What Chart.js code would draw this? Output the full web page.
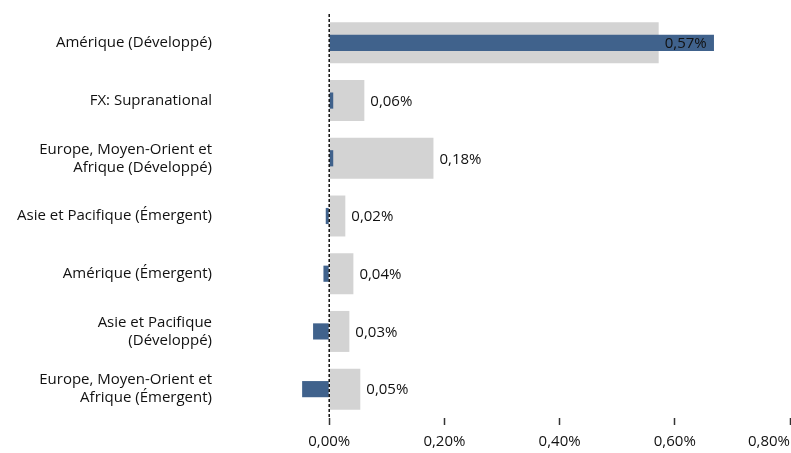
<!DOCTYPE html>
<html>
<head>
<meta charset="utf-8">
<script src="https://cdn.jsdelivr.net/npm/chart.js@4.4.0/dist/chart.umd.min.js"></script>
<style>
  html, body { margin: 0; padding: 0; background: #fff; }
  #wrap { width: 791px; height: 453px; }
</style>
</head>
<body>
<div id="wrap"><canvas id="c"></canvas></div>
<script>
const regions = [
    'Amérique (Développé)',
    'FX: Supranational',
    ['Europe, Moyen-Orient et', 'Afrique (Développé)'],
    'Asie et Pacifique (Émergent)',
    'Amérique (Émergent)',
    ['Asie et Pacifique', '(Développé)'],
    ['Europe, Moyen-Orient et', 'Afrique (Émergent)']
];
// grey bars (labelled) and dark blue bars, in %
const greyValues = [0.572, 0.061, 0.181, 0.028, 0.042, 0.035, 0.054];
const blueValues = [0.668, 0.007, 0.007, -0.006, -0.010, -0.028, -0.047];
const greyLabels = ['0,57%', '0,06%', '0,18%', '0,02%', '0,04%', '0,03%', '0,05%'];
const xTicks = [0, 0.2, 0.4, 0.6, 0.8];

const FONT = '"Open Sans", "Noto Sans", sans-serif';

function pct(v) {
    return v.toFixed(2).replace('.', ',') + '%';
}

// ligne pointillée à zéro + étiquettes des barres grises
const overlayPlugin = {
    id: 'overlay',
    afterDatasetsDraw(chart) {
        const { ctx, chartArea, scales: { x } } = chart;
        const x0 = x.getPixelForValue(0);
        ctx.save();
        ctx.strokeStyle = '#000';
        ctx.lineWidth = 1.4;
        ctx.setLineDash([3, 2]);
        ctx.beginPath();
        ctx.moveTo(x0, chartArea.top);
        ctx.lineTo(x0, chartArea.bottom);
        ctx.stroke();
        ctx.setLineDash([]);

        const meta = chart.getDatasetMeta(0);
        ctx.font = '15px ' + FONT;
        ctx.fillStyle = '#111';
        ctx.textAlign = 'left';
        ctx.textBaseline = 'middle';
        meta.data.forEach((bar, i) => {
            const xe = x.getPixelForValue(greyValues[i]);
            ctx.fillText(greyLabels[i], xe + 6, bar.y + 1);
        });
        ctx.restore();
    }
};

new Chart(document.getElementById('c'), {
    type: 'bar',
    data: {
        labels: regions,
        datasets: [
            {
                data: greyValues,
                backgroundColor: '#d3d3d3',
                barPercentage: 0.71,
                categoryPercentage: 1,
                grouped: false,
                order: 1
            },
            {
                data: blueValues,
                backgroundColor: '#40628c',
                barPercentage: 0.28,
                categoryPercentage: 1,
                grouped: false,
                order: 0
            }
        ]
    },
    options: {
        indexAxis: 'y',
        responsive: true,
        maintainAspectRatio: false,
        animation: false,
        layout: { padding: { top: 14, right: 1, left: 0, bottom: 0 } },
        plugins: {
            legend: { display: false },
            tooltip: { enabled: false }
        },
        scales: {
            x: {
                min: -0.2,
                max: 0.8,
                afterBuildTicks: scale => {
                    scale.ticks = [-0.2].concat(xTicks).map(v => ({ value: v }));
                },
                afterFit: scale => {
                    scale.paddingLeft = 0;
                    scale.paddingRight = 0;
                    scale.height = 35;
                },
                ticks: {
                    align: 'inner',
                    color: '#111',
                    font: { family: FONT, size: 15 },
                    padding: 8,
                    maxRotation: 0,
                    callback: v => v < 0 ? '' : pct(v)
                },
                grid: {
                    drawOnChartArea: false,
                    drawTicks: true,
                    tickLength: 7,
                    tickWidth: 1.5,
                    tickColor: ctx => (ctx.tick && ctx.tick.value < 0) ? 'rgba(0,0,0,0)' : '#333'
                },
                border: { display: false }
            },
            y: {
                afterFit: scale => {
                    scale.width = 214;
                    scale.paddingTop = 0;
                    scale.paddingBottom = 0;
                },
                ticks: {
                    color: '#111',
                    font: { family: FONT, size: 15 },
                    padding: 2
                },
                grid: { display: false, drawTicks: false },
                border: { display: false }
            }
        }
    },
    plugins: [overlayPlugin]
});
</script>
</body>
</html>
